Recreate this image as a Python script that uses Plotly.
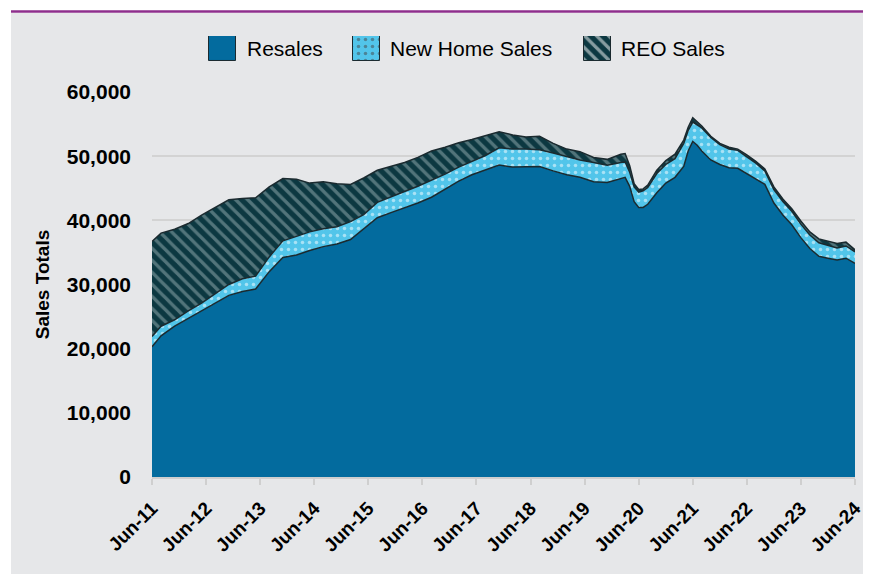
import plotly.graph_objects as go

# Monthly sales (stacked: resales, new home sales, REO)
dates = [
    "2011-06", "2011-08", "2011-11", "2012-02", "2012-05", "2012-08", "2012-11",
    "2013-02", "2013-05", "2013-08", "2013-11", "2014-02", "2014-05", "2014-08",
    "2014-11", "2015-02", "2015-05", "2015-08", "2015-11", "2016-02", "2016-05",
    "2016-08", "2016-11", "2017-02", "2017-05", "2017-08", "2017-11", "2018-02",
    "2018-05", "2018-08", "2018-11", "2019-02", "2019-05", "2019-08", "2019-11",
    "2020-02", "2020-03", "2020-04", "2020-05", "2020-06", "2020-07", "2020-08",
    "2020-10", "2020-12", "2021-02", "2021-04", "2021-05", "2021-06", "2021-07",
    "2021-08", "2021-10", "2021-12", "2022-02", "2022-04", "2022-06", "2022-08",
    "2022-10", "2022-12", "2023-02", "2023-04", "2023-06", "2023-08", "2023-10",
    "2023-12", "2024-02", "2024-04", "2024-06",
]

resales = [
    20300, 22000, 23500, 24700, 25900, 27200, 28300,
    28900, 29300, 32000, 34200, 34600, 35300, 35900,
    36300, 37000, 38600, 40400, 41200, 41900, 42700,
    43600, 44800, 46100, 47100, 47800, 48600, 48300,
    48300, 48400, 47700, 47100, 46700, 46000, 45900,
    46500, 46700, 45300, 42900, 42000, 42000, 42500,
    44300, 45800, 46700, 48400, 50800, 52300, 51700,
    50800, 49400, 48700, 48200, 48100, 47300, 46500,
    45600, 42700, 40800, 39300, 37300, 35600, 34400,
    34100, 33800, 34100, 33300,
]

new_home = [
    1600, 1500, 1000, 1200, 1200, 1300, 1700,
    2000, 2000, 2300, 2600, 2900, 2900, 2800,
    2700, 2800, 2300, 2400, 2500, 2600, 2600,
    2600, 2400, 2200, 2100, 2300, 2700, 2800,
    2800, 2600, 2800, 2800, 2700, 3000, 2700,
    2500, 2400, 2200, 2300, 2400, 2600, 2600,
    3000, 2900, 2900, 3600, 3200, 3000, 3200,
    3600, 3500, 3100, 2900, 2800, 2600, 2400,
    2100, 2100, 2100, 2100, 2100, 2100, 2100,
    2000, 1900, 1900, 1800,
]

reo = [
    14800, 14500, 14100, 13600, 13700, 13500, 13200,
    12500, 12200, 10900, 9700, 8900, 7600, 7300,
    6700, 5800, 5700, 5000, 4700, 4500, 4500,
    4600, 4200, 3800, 3400, 3100, 2500, 2200,
    1900, 2100, 1500, 1200, 1300, 800, 900,
    1300, 1300, 1000, 500, 400, 300, 400,
    500, 600, 700, 500, 500, 700, 500,
    300, 200, 200, 300, 200, 300, 300,
    300, 400, 400, 400, 500, 500, 600,
    600, 700, 600, 300,
]

series_names = ["Resales", "New Home Sales", "REO Sales"]
tick_dates = [f"{y}-06-01" for y in range(2011, 2025)]
tick_labels = [f"Jun-{y % 100:02d}" for y in range(2011, 2025)]

FONT = "Liberation Sans, Arial, sans-serif"
OUTLINE = "#1b2a2f"
BG = "#e6e7e9"
BLUE, CYAN, TEAL, STRIPE = "#036b9e", "#52c5ea", "#0c3841", "#97b0b4"

dots = dict(shape=".", bgcolor=CYAN, fgcolor="white", size=7, solidity=0.2)
stripes = dict(shape="\\", bgcolor=TEAL, fgcolor=STRIPE, size=8.5, solidity=0.4)

fig = go.Figure()

fig.add_trace(go.Scatter(x=dates, y=resales, name="Resales", stackgroup="one",
                         mode="lines", line=dict(color=OUTLINE, width=1.5),
                         fillcolor=BLUE, showlegend=False))
fig.add_trace(go.Scatter(x=dates, y=new_home, name="New Home Sales", stackgroup="one",
                         mode="lines", line=dict(color=OUTLINE, width=1.5),
                         fillcolor=CYAN, fillpattern=dots, showlegend=False))
fig.add_trace(go.Scatter(x=dates, y=reo, name="REO Sales", stackgroup="one",
                         mode="lines", line=dict(color=OUTLINE, width=1.5),
                         fillcolor=TEAL, fillpattern=stripes, showlegend=False))

# Custom legend swatches (bars on a hidden helper axis, in reference pixel units)
legend_x = [222.5, 366.5, 597.5]
legend_text_x = [245, 388, 619]
fig.add_trace(go.Bar(
    x=legend_x, y=[1, 1, 1], width=27, xaxis="x2", yaxis="y2",
    showlegend=False, hoverinfo="skip",
    marker=dict(
        color=[BLUE, CYAN, TEAL],
        line=dict(color=OUTLINE, width=1),
        pattern=dict(shape=["", ".", "\\"],
                     bgcolor=[BLUE, CYAN, TEAL],
                     fgcolor=[BLUE, "white", STRIPE],
                     size=[7, 7, 8.5], solidity=[0.1, 0.2, 0.4]),
    ),
))
for tx, name in zip(legend_text_x, series_names):
    fig.add_annotation(x=tx, y=0.5, xref="x2", yref="y2", text=name,
                       showarrow=False, xanchor="left", yanchor="middle",
                       font=dict(family=FONT, size=21, color="black"))

# Grey panel and purple rule at top
fig.add_shape(type="rect", xref="paper", yref="paper", x0=-0.2006, x1=1.05,
              y0=-0.25, y1=1.0153, fillcolor=BG, line_width=0, layer="below")
fig.add_shape(type="line", xref="paper", yref="paper", x0=-0.2006, x1=1.05,
              y0=1.0186, y1=1.0186, line=dict(color="#8e2f8c", width=2.5))

# page body has an 8px margin, so the figure is offset by 8px
fig.update_layout(
    width=863, height=566,
    margin=dict(l=144, r=16, t=12, b=97),
    paper_bgcolor="white", plot_bgcolor=BG,
    font=dict(family=FONT, color="black"),
    xaxis=dict(
        type="date", range=["2011-06-01", "2024-06-01"], automargin=False,
        tickvals=tick_dates, ticktext=tick_labels, tickangle=-45,
        tickfont=dict(family=FONT, size=19, weight="bold"),
        showgrid=False, showline=True, linecolor="#cfcfcf", linewidth=1.5,
        ticks="outside", ticklen=6, tickcolor="#cfcfcf", tickwidth=1.5,
        ticklabelstandoff=5,
    ),
    yaxis=dict(
        domain=[0, 0.8425], range=[0, 60000], tickvals=list(range(0, 60001, 10000)),
        tickformat=",", tickfont=dict(family=FONT, size=21, weight="bold"),
        showgrid=True, gridcolor="#d3d3d3", gridwidth=1.5, zeroline=False,
        ticks="", ticklabelstandoff=20, automargin=False,
        title=dict(text="Sales Totals", standoff=12,
                   font=dict(family=FONT, size=19, weight="bold")),
    ),
    xaxis2=dict(domain=[0, 1], range=[152, 855], visible=False, anchor="y2",
                fixedrange=True),
    yaxis2=dict(domain=[0.9103, 0.965], range=[0, 1], visible=False,
                anchor="x2", fixedrange=True),
    bargap=0,
)

fig.write_html("out.html")
